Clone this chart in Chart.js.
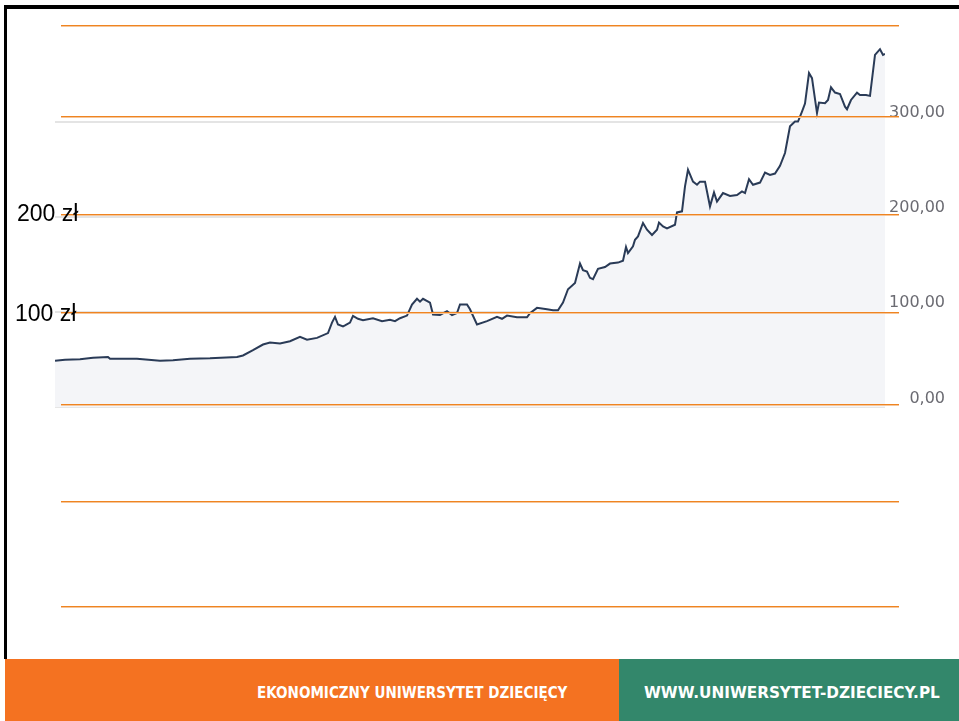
<!DOCTYPE html>
<html lang="pl">
<head>
<meta charset="utf-8">
<script src="https://cdn.jsdelivr.net/npm/chart.js@4"></script>
<style>
  html, body { margin: 0; padding: 0; background: #fff; }
  #slide { position: relative; width: 959px; height: 721px; overflow: hidden; background: #fff; }
  #chart-box { position: absolute; left: 0; top: 0; width: 959px; height: 420px; }
  .frame-top { position: absolute; left: 4px; top: 5px; width: 955px; height: 4px; background: #000; }
  .frame-left { position: absolute; left: 4px; top: 5px; width: 3px; height: 654px; background: #000; }
  .rule { position: absolute; left: 61px; width: 838px; height: 2px; background: linear-gradient(#ef8421 50%, #f6c69a 50%); z-index: 2; }
  .money { position: absolute; font-family: "Liberation Sans", Arial, sans-serif; font-size: 23px; color: #000; z-index: 3; line-height: 1; }
  .foot { position: absolute; top: 659px; height: 62px; }
  .foot-orange { left: 5px; width: 614px; background: #f47221; }
  .foot-green { left: 619px; width: 340px; background: #33876b; }
  .foot-text { position: absolute; top: 686px; color: #fff; font-family: "DejaVu Sans", sans-serif; font-weight: bold; font-size: 15px; line-height: 15px; white-space: nowrap; transform-origin: 0 0; }
</style>
</head>
<body>
<div id="slide">
  <div id="chart-box"><canvas id="price-chart" width="959" height="420"></canvas></div>
  <div class="frame-top"></div>
  <div class="frame-left"></div>
  <div class="rule" style="top:25px"></div>
  <div class="rule" style="top:116px"></div>
  <div class="rule" style="top:214px"></div>
  <div class="rule" style="top:312px"></div>
  <div class="rule" style="top:404px"></div>
  <div class="rule" style="top:501px"></div>
  <div class="rule" style="top:606px"></div>
  <div class="money" style="left:17px; top:202px">200 zł</div>
  <div class="money" style="left:15px; top:302px">100 zł</div>
  <div class="foot foot-orange"></div>
  <div class="foot foot-green"></div>
  <div class="foot-text" data-width="310" style="left:257px">EKONOMICZNY UNIWERSYTET DZIECIĘCY</div>
  <div class="foot-text" data-width="296" style="left:644px">WWW.UNIWERSYTET-DZIECIECY.PL</div>
</div>
<script>
// trading days (offset from the first quote) and closing prices in zł
const days = [
  0, 10, 25, 38, 53, 55, 82, 105, 118, 135, 155, 182, 188, 198, 208, 215, 225, 235,
  245, 252, 262, 273, 277, 280, 283, 288, 290, 295, 298, 303, 308, 318, 327, 335,
  340, 345, 352, 357, 362, 365, 368, 375, 378, 385, 392, 397, 402, 405, 412, 415,
  422, 432, 442, 447, 452, 462, 472, 475, 482, 492, 498, 503, 508, 513, 520, 525,
  528, 532, 535, 538, 543, 550, 555, 563, 568, 571, 573, 578, 580, 583, 588, 592,
  597, 602, 604, 608, 612, 620, 622, 627, 630, 633, 638, 642, 645, 650, 652, 655,
  659, 662, 668, 675, 682, 687, 690, 694, 698, 705, 710, 715, 720, 725, 730, 735,
  740, 743, 747, 750, 754, 757, 762, 764, 770, 773, 776, 780, 785, 790, 792, 796,
  802, 805, 811, 815, 820, 825, 828, 830
];
const prices = [
  49, 50, 50.5, 52, 53, 51, 51, 49, 49.5, 51, 51.5, 53, 54.5, 60, 66, 68, 67, 69.5,
  74, 71, 73, 78, 89, 95, 87, 85, 86, 89, 96, 93, 91.5, 93.6, 90.5, 92,
  90.5, 93.6, 96.4, 108, 114, 111, 114, 110, 97.5, 97, 101, 97, 99, 108, 108, 103,
  87, 90.5, 95, 93, 96.4, 94.6, 94.6, 99, 104.5, 103, 102, 102, 110, 124, 130.7, 151,
  144, 142.5, 136, 134.5, 145.5, 147.4, 151, 152, 154, 168.4, 162, 169, 176, 179.5, 193.6, 186.5,
  181, 186.5, 194, 190, 188, 191.8, 204.7, 205.8, 232, 249.5, 237, 233.7, 237, 237, 226.7, 211,
  225.7, 216, 225, 222, 223, 226.7, 225, 239.6, 233.7, 236, 246.5, 244, 245.5, 253.5, 267, 295,
  300, 300, 310.6, 319, 351, 345.6, 309, 320, 319.3, 322.7, 336, 330.5, 329, 315.7, 313, 322.7,
  330.4, 328, 328, 327, 370, 376, 370, 371
];
const priceTicks = [0, 100, 200, 300];

const points = days.map((day, i) => ({ x: day, y: prices[i] }));

new Chart(document.getElementById('price-chart'), {
  type: 'line',
  data: {
    datasets: [
      {
        data: points,
        borderColor: '#2a3b57',
        borderWidth: 2,
        backgroundColor: '#f4f5f8',
        fill: 'origin',
        pointRadius: 0,
        tension: 0
      }
    ]
  },
  options: {
    responsive: false,
    animation: false,
    layout: { padding: { left: 55, right: 14, top: 45.4, bottom: 12 } },
    plugins: { legend: { display: false }, tooltip: { enabled: false } },
    scales: {
      x: { type: 'linear', display: false, min: 0, max: 830 },
      y: {
        position: 'right',
        min: 0,
        max: 380,
        afterBuildTicks: (scale) => {
          scale.ticks = priceTicks.map((value) => ({ value }));
        },
        afterFit: (scale) => {
          scale.width = 60;
        },
        border: { display: false },
        grid: { color: '#e4e4e4', lineWidth: 2, drawTicks: false },
        ticks: {
          crossAlign: 'far',
          labelOffset: -9,
          color: '#6b6b72',
          font: { family: 'DejaVu Sans', size: 16 },
          callback: (value) => value.toFixed(2).replace('.', ',')
        }
      }
    }
  }
});

document.querySelectorAll('.foot-text').forEach((el) => {
  const target = Number(el.dataset.width);
  el.style.transform = `scaleX(${target / el.offsetWidth})`;
});
</script>
</body>
</html>
